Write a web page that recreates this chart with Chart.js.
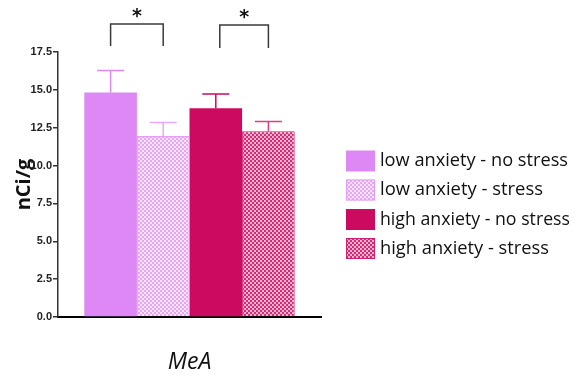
<!DOCTYPE html>
<html>
<head>
<meta charset="utf-8">
<script src="https://cdn.jsdelivr.net/npm/chart.js@4/dist/chart.umd.min.js"></script>
<style>
  html, body { margin: 0; padding: 0; background: #ffffff; }
  #wrap { width: 576px; height: 376px; }
</style>
</head>
<body>
<div id="wrap"><canvas id="c" width="576" height="376"></canvas></div>
<script>
// Region and groups
const categories = ['MeA'];
const groupLabels = [
  'low anxiety - no stress',
  'low anxiety - stress',
  'high anxiety - no stress',
  'high anxiety - stress'
];
// Mean uptake (nCi/g) and SEM for each group
const meanValues = [14.83, 11.96, 13.79, 12.27];
const semValues = [1.45, 0.88, 0.93, 0.64];
// Significance brackets: pairs of group indices
const sigPairs = [[0, 1], [2, 3]];
const sigLabels = ['*', '*'];
// Y axis ticks
const yTicks = [0, 2.5, 5, 7.5, 10, 12.5, 15, 17.5];

const LAV = '#dd88f5';
const CRIM = '#cc0a60';

function checker(c1, c2, cell) {
  const cv = document.createElement('canvas');
  cv.width = cell * 2; cv.height = cell * 2;
  const g = cv.getContext('2d');
  g.fillStyle = c1; g.fillRect(0, 0, cell * 2, cell * 2);
  g.fillStyle = c2;
  g.fillRect(0, 0, cell, cell);
  g.fillRect(cell, cell, cell, cell);
  return g.createPattern(cv, 'repeat');
}
const lavDots = checker('#e6a6f7', '#f9e6fd', 2);
const crimDots = checker('#d62a76', '#f6b4cf', 2);

const fills = [LAV, lavDots, CRIM, crimDots];
const borders = [LAV, '#e49cf6', CRIM, '#d21e6e'];
const errColors = [LAV, '#e8aaf8', CRIM, '#d8407e'];

const datasets = groupLabels.map((lab, i) => ({
  label: lab,
  data: [meanValues[i]],
  backgroundColor: fills[i],
  borderColor: borders[i],
  borderWidth: (i % 2 === 1) ? 1 : 0,
  borderSkipped: 'bottom'
}));

// Upward SEM whiskers with caps
const errorBars = {
  id: 'errorBars',
  afterDatasetsDraw(chart) {
    const ctx = chart.ctx;
    const y = chart.scales.y;
    ctx.save();
    chart.data.datasets.forEach((ds, i) => {
      const bar = chart.getDatasetMeta(i).data[0];
      const top = y.getPixelForValue(meanValues[i] + semValues[i]);
      ctx.strokeStyle = errColors[i];
      ctx.lineWidth = 1.5;
      ctx.beginPath();
      ctx.moveTo(bar.x, bar.y);
      ctx.lineTo(bar.x, top);
      ctx.moveTo(bar.x - 13.5, top);
      ctx.lineTo(bar.x + 13.5, top);
      ctx.stroke();
    });
    ctx.restore();
  }
};

// Significance brackets above the bar pairs
const brackets = {
  id: 'brackets',
  afterDatasetsDraw(chart) {
    const ctx = chart.ctx;
    const y = chart.scales.y;
    ctx.save();
    ctx.strokeStyle = '#3a3a3a';
    ctx.lineWidth = 1.5;
    ctx.fillStyle = '#111';
    ctx.font = 'bold 19px "DejaVu Sans", sans-serif';
    ctx.textAlign = 'center';
    ctx.textBaseline = 'middle';
    sigPairs.forEach((p, k) => {
      const a = chart.getDatasetMeta(p[0]).data[0];
      const b = chart.getDatasetMeta(p[1]).data[0];
      const legEnd = y.getPixelForValue(17.5) - 6 - (k === 1 ? -2 : 0);
      const topY = y.getPixelForValue(17.5) - 28 + k;
      const x1 = a.x + (k === 1 ? 4 : 0);
      const x2 = b.x;
      ctx.beginPath();
      ctx.moveTo(x1, legEnd);
      ctx.lineTo(x1, topY);
      ctx.lineTo(x2, topY);
      ctx.lineTo(x2, legEnd);
      ctx.stroke();
      ctx.fillText(sigLabels[k], (x1 + x2) / 2, topY - 7);
    });
    ctx.restore();
  }
};

// Group key on the right
const sideKey = {
  id: 'sideKey',
  afterDraw(chart) {
    const ctx = chart.ctx;
    const boxX = 346, boxW = 29, boxH = 21, textX = 380;
    const rowsY = [161, 190, 219.5, 248.5];
    ctx.save();
    ctx.font = '19px "Open Sans", sans-serif';
    ctx.textBaseline = 'middle';
    ctx.fillStyle = '#111';
    chart.data.datasets.forEach((ds, i) => {
      const cy = rowsY[i];
      ctx.fillStyle = ds.backgroundColor;
      ctx.fillRect(boxX, cy - boxH / 2, boxW, boxH);
      if (ds.borderWidth) {
        ctx.strokeStyle = ds.borderColor;
        ctx.lineWidth = 1;
        ctx.strokeRect(boxX + 0.5, cy - boxH / 2 + 0.5, boxW - 1, boxH - 1);
      }
      ctx.fillStyle = '#111';
      const w = ctx.measureText(ds.label).width;
      const target = [188, 163, 190, 169][i];
      ctx.save();
      ctx.translate(textX, cy);
      ctx.scale(target / w, 1);
      ctx.fillText(ds.label, 0, 0);
      ctx.restore();
    });
    ctx.restore();
  }
};

new Chart(document.getElementById('c'), {
  type: 'bar',
  data: { labels: categories, datasets },
  options: {
    responsive: false,
    animation: false,
    devicePixelRatio: 1,
    layout: { padding: { top: 52, right: 255, left: 0, bottom: 0 } },
    datasets: { bar: { categoryPercentage: 0.8, barPercentage: 1.0 } },
    plugins: {
      legend: { display: false },
      tooltip: { enabled: false }
    },
    scales: {
      x: {
        grid: { display: false, drawTicks: false },
        border: { display: true, color: '#000', width: 2 },
        ticks: {
          color: '#111',
          padding: 32,
          font: { family: '"Open Sans", sans-serif', size: 23, style: 'italic', weight: '500' }
        },
        afterFit(s) { s.height = 59; }
      },
      y: {
        min: 0,
        max: 17.5,
        afterBuildTicks(s) { s.ticks = yTicks.map(v => ({ value: v })); },
        grid: { drawOnChartArea: false, drawTicks: true, tickLength: 5, color: '#333', lineWidth: 1.5 },
        border: { display: true, color: '#333', width: 1.5 },
        ticks: {
          color: '#222',
          padding: 1,
          font: { family: '"Liberation Sans", Arial, sans-serif', size: 11, weight: 'bold' },
          callback: v => Number(v).toFixed(1)
        },
        title: {
          display: true,
          text: 'nCi/g',
          color: '#111',
          padding: { top: 12, bottom: 0 },
          font: { family: '"Open Sans", sans-serif', size: 20, weight: 'bold' }
        },
        afterFit(s) { s.width = 58; }
      }
    }
  },
  plugins: [errorBars, brackets, sideKey]
});
</script>
</body>
</html>
